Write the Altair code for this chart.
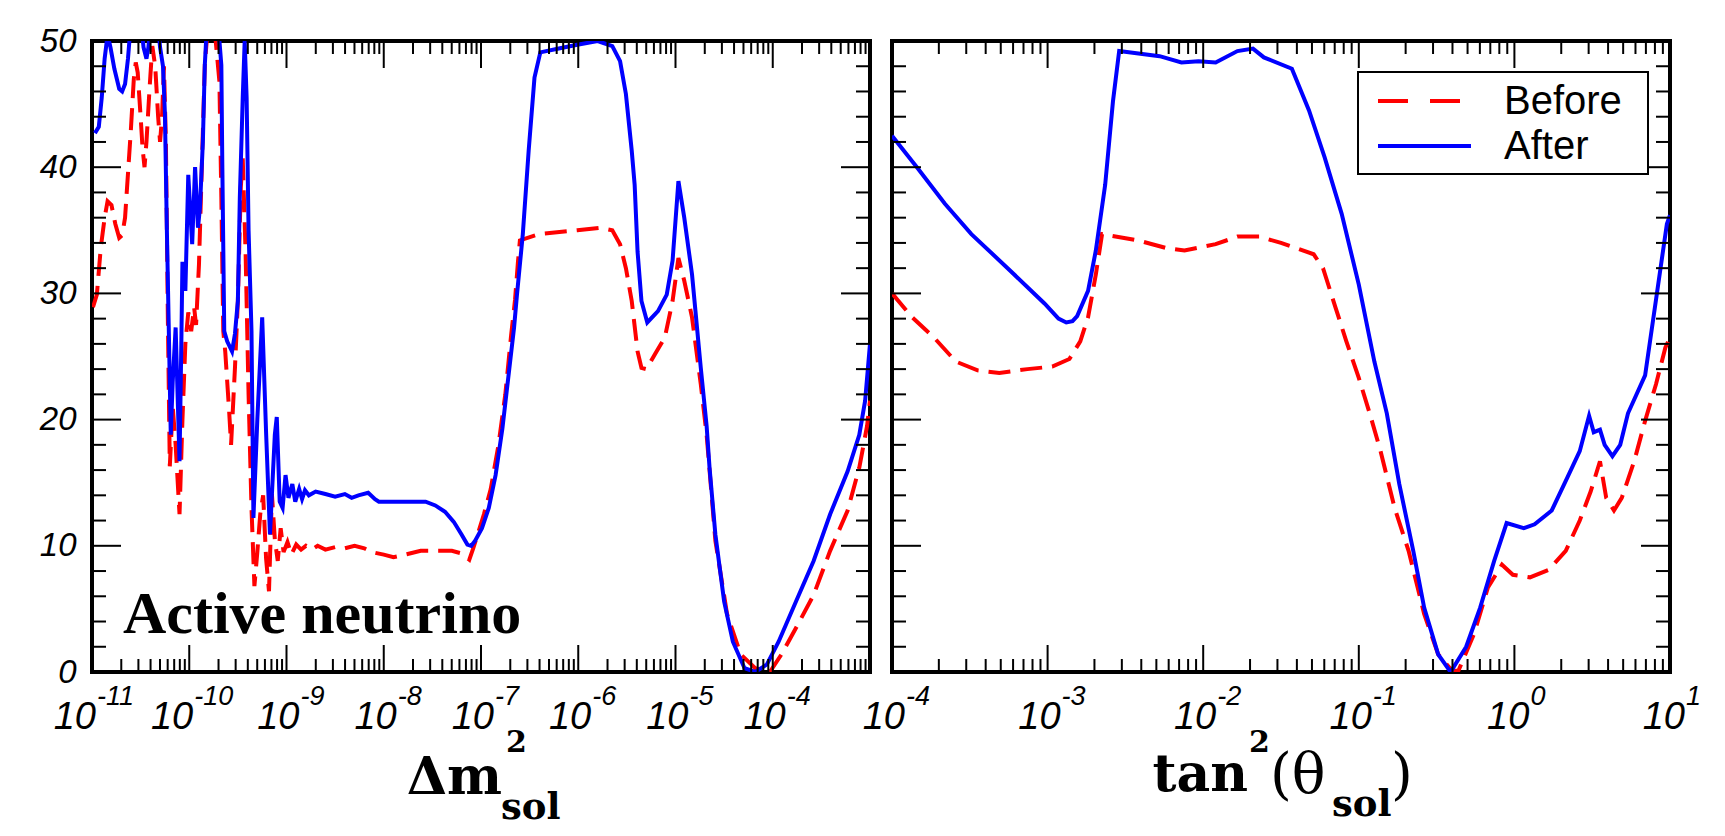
import altair as alt
import pandas as pd

# ---------------- data ----------------
# left panel: x = log10(dm^2_sol), y = chi^2
left_after_lx = [-10.97, -10.93, -10.90, -10.87, -10.84, -10.81, -10.77, -10.72, -10.69, -10.66,
                 -10.63, -10.60, -10.55, -10.49, -10.47, -10.44, -10.42, -10.39, -10.33, -10.30,
                 -10.27, -10.25, -10.23, -10.21, -10.19, -10.17, -10.14, -10.10, -10.08, -10.07,
                 -10.04, -10.01, -9.97, -9.94, -9.91, -9.89, -9.86, -9.84, -9.82, -9.75,
                 -9.70, -9.67, -9.66, -9.64, -9.61, -9.56, -9.53, -9.50, -9.48, -9.45,
                 -9.43, -9.41, -9.39, -9.36, -9.34, -9.30, -9.25, -9.21, -9.17, -9.12,
                 -9.10, -9.07, -9.04, -9.01, -8.98, -8.94, -8.91, -8.87, -8.84, -8.81,
                 -8.77, -8.70, -8.60, -8.50, -8.40, -8.33, -8.26, -8.16, -8.09, -8.05,
                 -7.92, -7.75, -7.57, -7.47, -7.37, -7.28, -7.20, -7.14, -7.10, -7.06,
                 -6.99, -6.92, -6.85, -6.78, -6.72, -6.66, -6.63, -6.57, -6.51, -6.45,
                 -6.39, -6.20, -6.01, -5.80, -5.65, -5.57, -5.51, -5.45, -5.42, -5.39,
                 -5.35, -5.29, -5.18, -5.09, -5.03, -4.97, -4.91, -4.83, -4.74, -4.68,
                 -4.65, -4.59, -4.50, -4.41, -4.29, -4.18, -4.06, -3.94, -3.76, -3.58,
                 -3.41, -3.23, -3.11, -3.05, -3.00]
left_after_v = [42.7, 43.2, 45.5, 48.6, 50.5, 49.5, 47.8, 46.2, 46.0, 46.6,
                48.6, 51.5, 53.0, 51.0, 49.5, 48.6, 49.5, 52.0, 52.0, 49.5,
                48.0, 44.2, 35.0, 27.0, 18.8, 23.0, 27.3, 16.7, 26.8, 32.5,
                30.2, 39.4, 33.9, 40.0, 35.2, 36.8, 42.0, 48.1, 51.0, 53.0,
                51.0, 48.1, 40.2, 27.0, 26.2, 25.4, 26.8, 29.4, 37.6, 45.5,
                50.0, 45.5, 35.0, 27.0, 12.2, 20.0, 28.1, 19.0, 10.9, 18.8,
                20.2, 13.5, 13.0, 15.6, 13.8, 14.9, 13.5, 14.5, 13.7, 14.4,
                14.0, 14.3, 14.1, 13.9, 14.1, 13.8, 14.0, 14.2, 13.7, 13.5,
                13.5, 13.5, 13.5, 13.2, 12.7, 11.9, 10.9, 10.1, 10.0, 10.4,
                11.4, 13.0, 15.6, 19.3, 23.3, 27.3, 29.9, 34.7, 41.3, 47.1,
                49.1, 49.4, 49.7, 50.0, 49.6, 48.4, 45.8, 41.3, 38.6, 33.3,
                29.4, 27.7, 28.6, 29.9, 32.6, 38.9, 36.0, 31.5, 24.1, 19.5,
                16.2, 10.9, 5.6, 2.4, 0.3, 0.0, 0.6, 2.4, 5.6, 8.8,
                12.5, 15.9, 18.8, 21.5, 26.0]

left_before_lx = [-10.99, -10.95, -10.91, -10.87, -10.84, -10.80, -10.76, -10.72, -10.69, -10.66,
                  -10.63, -10.60, -10.57, -10.55, -10.53, -10.50, -10.48, -10.46, -10.44, -10.41,
                  -10.38, -10.35, -10.32, -10.30, -10.28, -10.26, -10.24, -10.22, -10.20, -10.17,
                  -10.14, -10.10, -10.07, -10.04, -10.01, -9.98, -9.95, -9.93, -9.90, -9.87,
                  -9.84, -9.81, -9.74, -9.69, -9.67, -9.65, -9.63, -9.59, -9.57, -9.53,
                  -9.50, -9.47, -9.45, -9.42, -9.39, -9.36, -9.33, -9.30, -9.27, -9.24,
                  -9.21, -9.18, -9.15, -9.12, -9.09, -9.06, -9.03, -8.99, -8.95, -8.90,
                  -8.85, -8.80, -8.74, -8.68, -8.60, -8.50, -8.40, -8.30, -8.20, -8.12,
                  -8.00, -7.90, -7.78, -7.62, -7.45, -7.30, -7.20, -7.12, -7.08, -7.03,
                  -6.97, -6.90, -6.82, -6.75, -6.69, -6.65, -6.62, -6.60, -6.40, -6.01,
                  -5.78, -5.65, -5.57, -5.51, -5.45, -5.39, -5.35, -5.30, -5.21, -5.11,
                  -5.03, -4.97, -4.91, -4.83, -4.74, -4.68, -4.59, -4.47, -4.33, -4.18,
                  -4.03, -3.91, -3.76, -3.58, -3.41, -3.23, -3.11, -3.03, -3.00]
left_before_v = [28.9, 29.9, 33.6, 36.0, 37.3, 37.0, 35.5, 34.4, 34.6, 36.0,
                 39.5, 43.0, 47.0, 48.3, 47.5, 44.0, 41.5, 40.0, 42.0, 46.0,
                 49.6, 48.0, 44.0, 42.0, 44.0, 48.0, 42.0, 28.0, 16.3, 21.0,
                 18.0, 12.5, 20.0, 26.0, 28.5, 27.0, 28.9, 27.5, 32.3, 40.2,
                 48.1, 51.0, 51.0, 46.8, 37.6, 27.0, 25.4, 20.7, 18.0, 24.1,
                 29.4, 38.4, 40.7, 33.0, 22.0, 13.0, 6.8, 9.5, 12.5, 14.0,
                 9.0, 6.4, 14.1, 10.5, 8.8, 11.4, 9.5, 10.3, 9.3, 10.1,
                 9.7, 10.0, 9.7, 10.0, 9.7, 9.9, 9.8, 10.0, 9.8, 9.5,
                 9.3, 9.1, 9.3, 9.6, 9.6, 9.6, 9.4, 8.9, 9.8, 11.0,
                 12.5, 14.5, 18.0, 22.0, 26.7, 29.5, 32.5, 34.2, 34.7, 35.0,
                 35.2, 35.0, 33.9, 32.0, 29.4, 25.4, 24.1, 24.0, 25.2, 26.5,
                 29.4, 32.8, 31.0, 28.1, 22.8, 18.8, 10.4, 4.6, 1.4, 0.3,
                 0.0, 1.4, 3.5, 6.1, 9.6, 12.8, 16.2, 19.5, 21.5]

# right panel: x = log10(tan^2 theta_sol)
right_after_lx = [-4.00, -3.84, -3.66, -3.49, -3.24, -3.02, -2.93, -2.88, -2.84, -2.81,
                  -2.74, -2.69, -2.63, -2.58, -2.54, -2.28, -2.14, -2.03, -1.92, -1.78,
                  -1.68, -1.61, -1.43, -1.32, -1.22, -1.11, -1.00, -0.90, -0.82, -0.74,
                  -0.65, -0.58, -0.49, -0.41, -0.31, -0.22, -0.13, -0.05, 0.06, 0.13,
                  0.24, 0.34, 0.42, 0.48, 0.51, 0.55, 0.58, 0.63, 0.68, 0.73,
                  0.84, 0.91, 0.98, 1.00]
right_after_v = [42.5, 40.0, 37.1, 34.7, 31.8, 29.2, 28.0, 27.7, 27.8, 28.2,
                 30.2, 33.4, 38.6, 45.2, 49.2, 48.8, 48.3, 48.4, 48.3, 49.2,
                 49.4, 48.7, 47.8, 44.5, 40.8, 36.3, 30.7, 24.6, 20.5, 14.9,
                 9.6, 5.1, 1.4, 0.0, 2.0, 5.1, 8.8, 11.8, 11.4, 11.7,
                 12.8, 15.4, 17.5, 20.3, 19.0, 19.2, 18.0, 17.1, 18.0, 20.5,
                 23.5, 29.5, 35.5, 36.2]

right_before_lx = [-4.00, -3.87, -3.73, -3.59, -3.45, -3.31, -3.13, -2.97, -2.86, -2.79,
                   -2.74, -2.69, -2.65, -2.42, -2.24, -2.12, -1.92, -1.78, -1.64, -1.50,
                   -1.29, -1.23, -1.15, -1.08, -1.00, -0.93, -0.86, -0.77, -0.68, -0.58,
                   -0.49, -0.40, -0.36, -0.26, -0.17, -0.08, -0.01, 0.10, 0.22, 0.33,
                   0.42, 0.49, 0.55, 0.59, 0.64, 0.69, 0.77, 0.84, 0.91, 0.97, 1.00]
right_before_v = [30.0, 28.1, 26.5, 24.6, 23.9, 23.7, 24.0, 24.2, 24.8, 26.2,
                  28.1, 31.5, 34.7, 34.2, 33.6, 33.4, 33.9, 34.5, 34.5, 34.0,
                  33.1, 32.0, 28.9, 26.2, 23.3, 20.5, 17.5, 13.0, 9.6, 4.6,
                  1.4, 0.1, 0.1, 3.0, 6.7, 8.5, 7.7, 7.5, 8.1, 9.6,
                  12.0, 14.3, 16.7, 13.8, 12.8, 13.8, 16.7, 19.9, 22.8, 25.7, 26.5]

series_names = ["Before", "After"]
series_colors = ["#ff0000", "#0000ff"]

left_exps = [-11, -10, -9, -8, -7, -6, -5, -4]
right_exps = [-4, -3, -2, -1, 0, 1]
y_label_values = [0, 10, 20, 30, 40, 50]

left_title = ["\u0394m", "2", "sol"]
right_title = ["tan", "2", "(\u03b8", "sol", ")"]
panel_note = ["Active neutrino"]

# ---------------- layout constants ----------------
W, H = 778, 631
RED_DASH = [22, 10]
LEG_DASH = [30, 22]
LW = 4
TITLE_FONT = "DejaVu Serif"

yscale = alt.Scale(domain=[0, 50], nice=False, zero=False)
yaxis_left = alt.Axis(values=y_label_values, ticks=False, domain=False, grid=False,
                      labelFont="Liberation Sans", labelFontStyle="italic",
                      labelFontSize=33, labelPadding=16, labelColor="black", title=None)


def line_df(lx, v, name):
    return pd.DataFrame({"x": [10.0 ** e for e in lx], "y": v, "series": name,
                         "k": list(range(len(lx)))})


def tick_layers(xscale, dec_lo, dec_hi, yaxis):
    ymaj = pd.DataFrame({"y": [v for v in range(10, 50, 10)]})
    ymin = pd.DataFrame({"y": [v for v in range(2, 50, 2) if v % 10]})
    xmaj = pd.DataFrame({"x": [10.0 ** k for k in range(dec_lo + 1, dec_hi)]})
    xmin = pd.DataFrame({"x": [m * 10.0 ** k for k in range(dec_lo, dec_hi) for m in range(2, 10)]})
    rule = dict(color="black", strokeWidth=2)
    Y = lambda: alt.Y("y:Q", scale=yscale, axis=yaxis)
    X = lambda: alt.X("x:Q", scale=xscale, axis=None)
    out = []
    for df, ln in ((ymaj, 29), (ymin, 14)):
        out.append(alt.Chart(df).mark_rule(**rule).encode(y=Y(), x=alt.value(0), x2=alt.value(ln)))
        out.append(alt.Chart(df).mark_rule(**rule).encode(y=Y(), x=alt.value(W - ln), x2=alt.value(W)))
    for df, ln in ((xmaj, 27), (xmin, 13)):
        out.append(alt.Chart(df).mark_rule(**rule).encode(x=X(), y=alt.value(H), y2=alt.value(H - ln)))
        out.append(alt.Chart(df).mark_rule(**rule).encode(x=X(), y=alt.value(0), y2=alt.value(ln)))
    return out


def label_layers(xscale, exps):
    df = pd.DataFrame({"x": [10.0 ** e for e in exps], "base": ["10"] * len(exps),
                       "exp": [str(e) for e in exps]})
    df["n"] = df["exp"].str.len()
    out = []
    shift = {3: 4, 2: 13, 1: 15}
    for n, d in shift.items():
        sub = df[df["n"] == n]
        if len(sub) == 0:
            continue
        base = alt.Chart(sub).mark_text(align="right", baseline="alphabetic", dx=d,
                                        font="Liberation Sans", fontStyle="italic",
                                        fontSize=38, color="black").encode(
            x=alt.X("x:Q", scale=xscale, axis=None), y=alt.value(688), text="base:N")
        sup = alt.Chart(sub).mark_text(align="left", baseline="alphabetic", dx=d + 1,
                                       font="Liberation Sans", fontStyle="italic",
                                       fontSize=27, color="black").encode(
            x=alt.X("x:Q", scale=xscale, axis=None), y=alt.value(664), text="exp:N")
        out += [base, sup]
    return out


def text_piece(txt, x, y, size, weight="bold", align="left", font=TITLE_FONT):
    return alt.Chart(pd.DataFrame({"t": [txt]})).mark_text(
        font=font, fontWeight=weight, fontSize=size, align=align,
        baseline="alphabetic", color="black").encode(text="t:N", x=alt.value(x), y=alt.value(y))


# ---------------- left panel ----------------
xs_left = alt.Scale(type="log", domain=[1e-11, 1e-3], nice=False)
lb = line_df(left_before_lx, left_before_v, series_names[0])
la = line_df(left_after_lx, left_after_v, series_names[1])

left_red = alt.Chart(lb).mark_line(color=series_colors[0], strokeDash=RED_DASH, strokeWidth=LW,
                                   clip=True).encode(
    x=alt.X("x:Q", scale=xs_left, axis=None),
    y=alt.Y("y:Q", scale=yscale, axis=yaxis_left), order="k:Q")
left_blue = alt.Chart(la).mark_line(color=series_colors[1], strokeWidth=LW, clip=True).encode(
    x=alt.X("x:Q", scale=xs_left, axis=None),
    y=alt.Y("y:Q", scale=yscale, axis=yaxis_left), order="k:Q")

left = alt.layer(
    left_red, left_blue,
    *tick_layers(xs_left, -11, -3, yaxis_left),
    *label_layers(xs_left, left_exps),
    text_piece(panel_note[0], 31, 592, 60, font="Liberation Serif"),
    text_piece(left_title[0], 410, 753, 52, align="right"),
    text_piece(left_title[1], 414, 711, 30),
    text_piece(left_title[2], 409, 778, 37),
).properties(width=W, height=H)

# ---------------- right panel ----------------
xs_right = alt.Scale(type="log", domain=[1e-4, 10], nice=False)
rb = line_df(right_before_lx, right_before_v, series_names[0])
ra = line_df(right_after_lx, right_after_v, series_names[1])

right_red = alt.Chart(rb).mark_line(color=series_colors[0], strokeDash=RED_DASH, strokeWidth=LW,
                                    clip=True).encode(
    x=alt.X("x:Q", scale=xs_right, axis=None),
    y=alt.Y("y:Q", scale=yscale, axis=None), order="k:Q")
right_blue = alt.Chart(ra).mark_line(color=series_colors[1], strokeWidth=LW, clip=True).encode(
    x=alt.X("x:Q", scale=xs_right, axis=None),
    y=alt.Y("y:Q", scale=yscale, axis=None), order="k:Q")

# legend (box, line samples, labels)
legend_box = alt.Chart(pd.DataFrame({"t": ["box"]})).mark_rect(
    fill="white", stroke="black", strokeWidth=2).encode(
    x=alt.value(466), x2=alt.value(756), y=alt.value(31), y2=alt.value(133))
legend_layers = [legend_box]
for i, name in enumerate(series_names):
    ly = 60 + 45 * i
    dash = LEG_DASH if i == 0 else [1, 0]
    legend_layers.append(
        alt.Chart(pd.DataFrame({"series": [name]})).mark_rule(
            color=series_colors[i], strokeWidth=LW, strokeDash=dash).encode(
            x=alt.value(486), x2=alt.value(579), y=alt.value(ly)))
    legend_layers.append(
        alt.Chart(pd.DataFrame({"series": [name]})).mark_text(
            align="left", baseline="middle", font="Liberation Sans", fontSize=40,
            color="black").encode(text="series:N", x=alt.value(612), y=alt.value(ly + 1)))

right = alt.layer(
    right_red, right_blue,
    *tick_layers(xs_right, -4, 1, None),
    *label_layers(xs_right, right_exps),
    *legend_layers,
    text_piece(right_title[0], 356, 750, 52, align="right"),
    text_piece(right_title[1], 357, 711, 30),
    text_piece(right_title[2], 378, 752, 56, weight="normal"),
    text_piece(right_title[3], 440, 775, 37),
    text_piece(right_title[4], 499, 752, 56, weight="normal"),
).properties(width=W, height=H)

chart = alt.hconcat(left, right, spacing=22, bounds="flush").properties(
    padding={"left": 29, "top": 15, "right": 5, "bottom": 5}, background="white"
).configure_view(stroke="black", strokeWidth=4)

chart.save("out.html", embed_options={"renderer": "svg", "actions": False})
